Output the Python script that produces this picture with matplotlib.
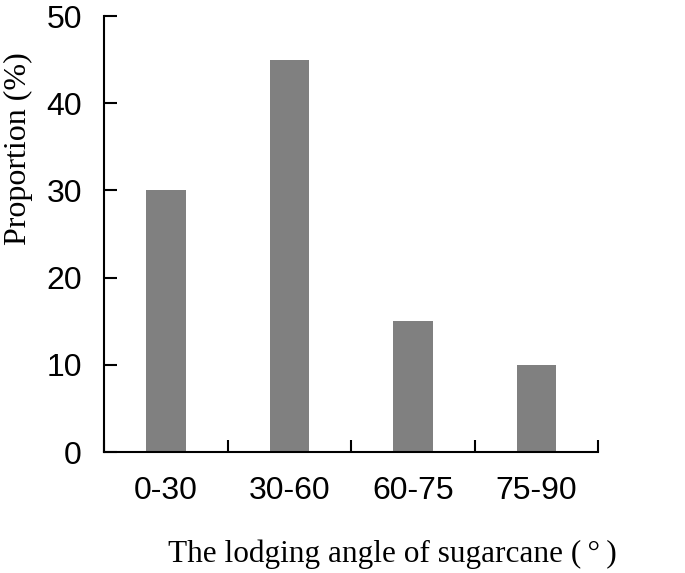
import numpy as np
import matplotlib.pyplot as plt

# 数据
categories = ['0-30', '30-60', '60-75', '75-90']
proportion = [30, 45, 15, 10]
y_ticks = [0, 10, 20, 30, 40, 50]

fig = plt.figure(figsize=(6.85, 5.73), dpi=100)
ax = fig.add_axes([0.152, 0.211, 0.721, 0.761])

x = np.arange(len(categories))
ax.bar(x, proportion, width=0.32, color='#808080', zorder=2)

ax.set_xlim(-0.5, len(categories) - 0.5)
ax.set_ylim(0, 50)
ax.set_yticks(y_ticks)

# 分类刻度：标签居中，刻度线在分类边界
ax.set_xticks(x)
ax.set_xticklabels(categories, family='Liberation Sans', fontsize=23)
ax.set_xticks(np.arange(-0.5, len(categories)), minor=True)
ax.tick_params(axis='x', which='major', length=0, pad=17)
ax.tick_params(axis='x', which='minor', direction='in', length=9, width=1.5)
ax.tick_params(axis='y', direction='in', length=9, width=1.5, pad=16)
for lab in ax.get_yticklabels():
    lab.set_family('Liberation Sans')
    lab.set_fontsize(23)

for s in ['top', 'right']:
    ax.spines[s].set_visible(False)
for s in ['left', 'bottom']:
    ax.spines[s].set_linewidth(1.5)

ax.set_ylabel('Proportion (%)', family='Liberation Serif', fontsize=23)
ax.yaxis.set_label_coords(-0.144, 0.697)
ax.set_xlabel('The lodging angle of sugarcane (\u2009°\u2009)', family='Liberation Serif',
              fontsize=22.5)
ax.xaxis.set_label_coords(0.583, -0.2)

plt.savefig('out.png', dpi=100)
